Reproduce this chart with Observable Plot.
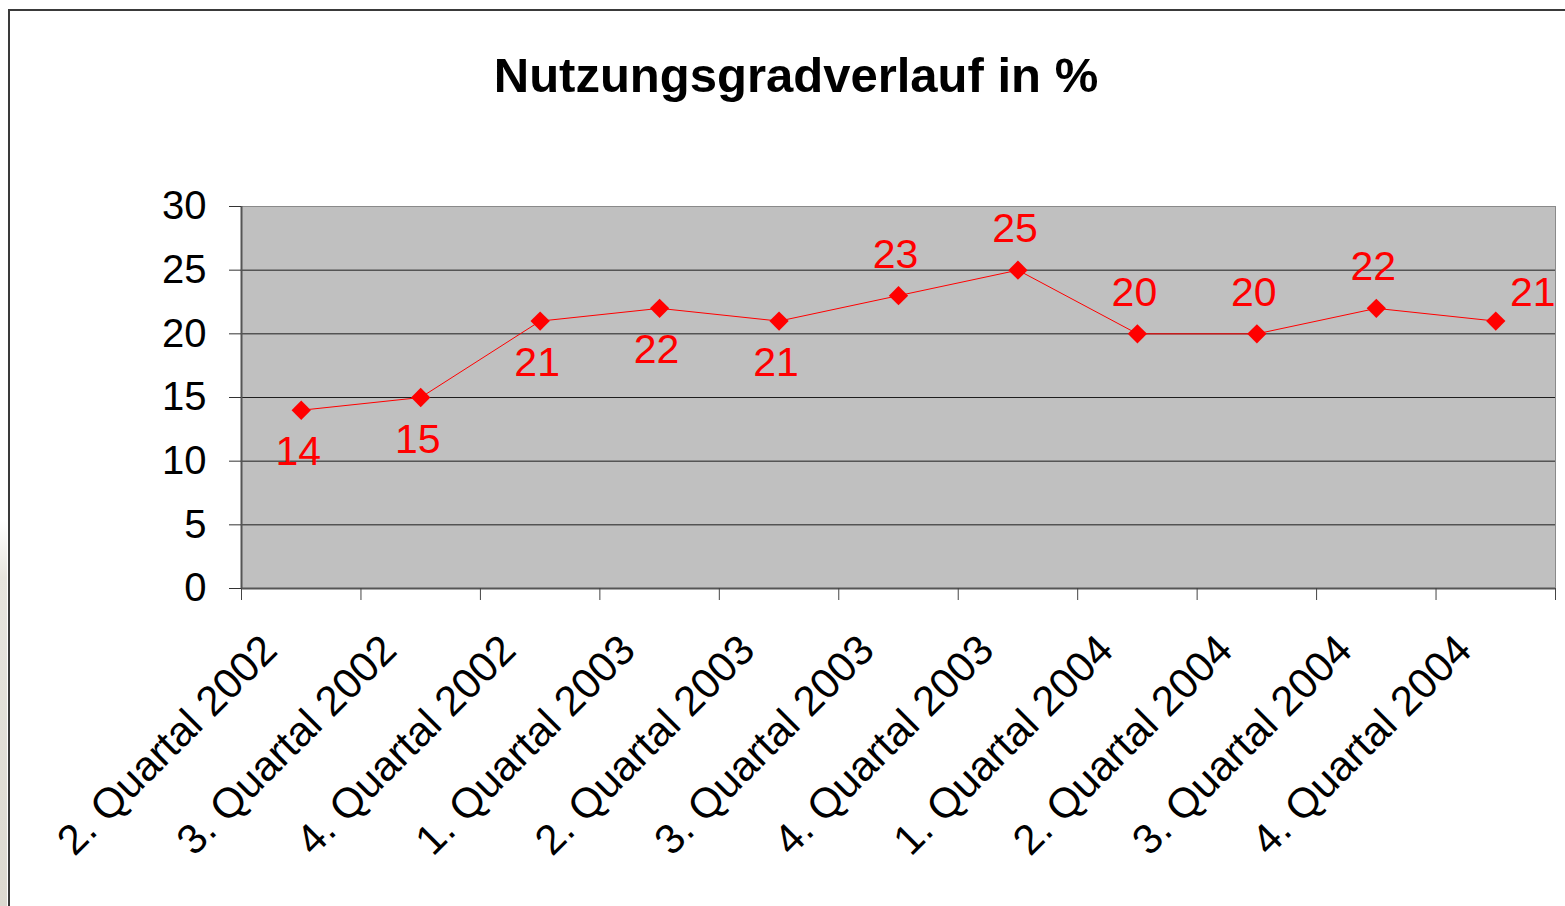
<!DOCTYPE html>
<html><head><meta charset="utf-8">
<script src="https://cdn.jsdelivr.net/npm/d3@7"></script>
<script src="https://cdn.jsdelivr.net/npm/@observablehq/plot@0.6"></script>
<style>
html,body{margin:0;padding:0;background:#fff;overflow:hidden;}
#wrap{position:relative;width:1565px;height:906px;overflow:hidden;font-family:"Liberation Sans",Arial,sans-serif;}
#frame{position:absolute;left:8px;top:9px;width:1700px;height:1000px;border:2px solid #3a3a3a;box-sizing:border-box;}
#strip{position:absolute;left:0;top:520px;width:7px;height:386px;background:linear-gradient(to bottom,#fff,#e6e4de 15%,#dcd9d0 100%);}
#title{position:absolute;left:796px;top:50px;transform:translateX(-50%);font-size:49px;line-height:50px;font-weight:bold;white-space:nowrap;color:#000;}
#chart{position:absolute;left:0;top:140px;}
</style></head><body>
<div id="wrap"><div id="strip"></div><div id="frame"></div><div id="title">Nutzungsgradverlauf in %</div><div id="chart"></div></div>
<script>
const categories = ["2. Quartal 2002","3. Quartal 2002","4. Quartal 2002","1. Quartal 2003","2. Quartal 2003","3. Quartal 2003","4. Quartal 2003","1. Quartal 2004","2. Quartal 2004","3. Quartal 2004","4. Quartal 2004"];
const values = [14,15,21,22,21,23,25,20,20,22,21];
const yTicks = [0,5,10,15,20,25,30];

const data = categories.map((q,i)=>({q, i, v: values[i]}));
const last = data.length - 1;
const xc = d => d.i + 0.5;
const font = '"Liberation Sans", Arial, sans-serif';

const chart = Plot.plot({
  width:1565, height:766,
  marginLeft:241, marginRight:10, marginTop:66, marginBottom:318,
  x:{type:"linear", domain:[0, categories.length], axis:null},
  y:{domain:[0,30], axis:null},
  style:{fontFamily:font, background:"transparent", overflow:"visible"},
  marks:[
    Plot.frame({fill:"#c0c0c0", stroke:"#8a8a8a"}),
    Plot.ruleY(yTicks.filter(t=>t>0 && t<30), {stroke:"#1e1e1e", strokeWidth:1}),
    Plot.ruleX([0], {stroke:"#555", strokeWidth:2}),
    Plot.ruleY([0], {stroke:"#555", strokeWidth:2}),
    Plot.axisY({ticks:yTicks, tickSize:12, tickPadding:23, fontSize:40, color:"#000", stroke:"#333", tickFormat:d=>String(d), label:null}),
    Plot.axisX({ticks:d3.range(categories.length+1), tickSize:12, tickFormat:()=>"", stroke:"#444", label:null}),
    Plot.text(data, {x:xc, frameAnchor:"bottom", text:"q", rotate:-45, textAnchor:"end", lineAnchor:"bottom", dx:-22, dy:64, fontSize:42, fill:"#000"}),
    Plot.line(data, {x:xc, y:"v", stroke:"#ff0000", strokeWidth:1}),
    Plot.dot(data, {x:xc, y:"v", symbol:"diamond2", r:8.7, fill:"#ff0000", stroke:"none"}),
    Plot.text(data.filter(d=>d.i<5), {x:xc, y:"v", text:d=>String(d.v), dx:-3, dy:42, fontSize:41, fill:"#ff0000", lineAnchor:"middle"}),
    Plot.text(data.filter(d=>d.i>=5 && d.i<last), {x:xc, y:"v", text:d=>String(d.v), dx:-3, dy:-41, fontSize:41, fill:"#ff0000", lineAnchor:"middle"}),
    Plot.text(data.filter(d=>d.i===last), {x:xc, y:"v", text:d=>String(d.v), dx:37, dy:-28, fontSize:41, fill:"#ff0000", lineAnchor:"middle"})
  ]
});
document.getElementById("chart").appendChild(chart);
</script>
</body></html>
